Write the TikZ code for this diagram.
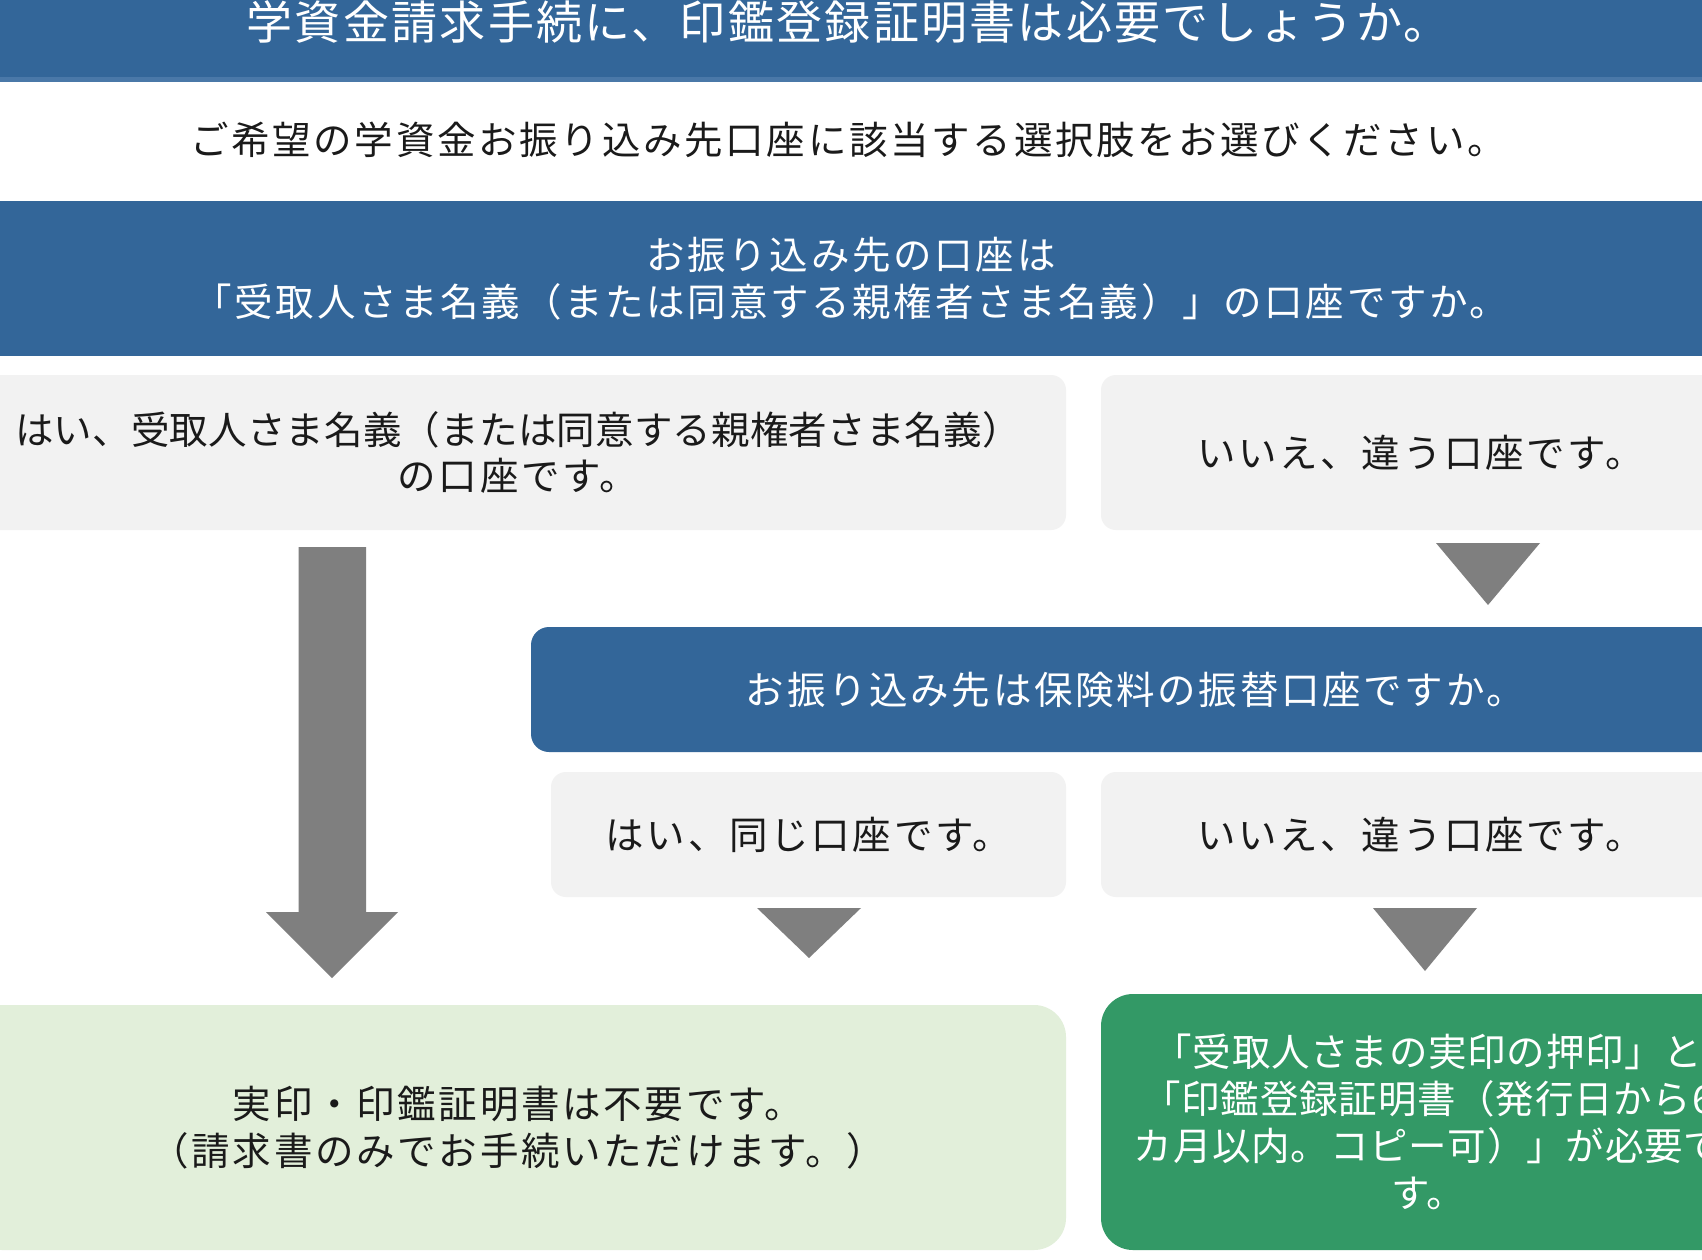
\documentclass[tikz,border=0pt]{standalone}
\usepackage{fontspec}
\setmainfont{Noto Sans CJK JP}
\newfontfamily\jpbody[LetterSpace=7]{Noto Sans CJK JP}
\newfontfamily\jptight[LetterSpace=0.5]{Noto Sans CJK JP}
\newfontfamily\jpgreen[LetterSpace=2]{Noto Sans CJK JP}
\newfontfamily\jptitle[LetterSpace=5]{Noto Sans CJK JP}
\definecolor{bandblue}{HTML}{336699}
\definecolor{bandstrip}{HTML}{4A78A8}
\definecolor{boxgrey}{HTML}{F2F2F2}
\definecolor{lightgreen}{HTML}{E2EFDA}
\definecolor{darkgreen}{HTML}{339966}
\definecolor{arrowgrey}{HTML}{7F7F7F}
\definecolor{inkblack}{HTML}{1A1A1A}
\begin{document}
\begin{tikzpicture}[x=1pt,y=-1pt,
  plainbox/.style={draw=none, inner sep=0pt, outer sep=0pt, align=center},
  bodyfont/.style={font=\jpbody\fontsize{38.5}{47}\selectfont},
  band/.style={plainbox, fill=bandblue, minimum width=1702pt, text=white, bodyfont},
  greybox/.style={plainbox, fill=boxgrey, rounded corners=15pt, text=inkblack, bodyfont},
  bluebox/.style={plainbox, fill=bandblue, rounded corners=18pt, text=white, bodyfont},
  resultlight/.style={plainbox, fill=lightgreen, rounded corners=32pt, text=inkblack, bodyfont},
  resultdark/.style={plainbox, fill=darkgreen, rounded corners=32pt, text=white, bodyfont},
  flowarrow/.style={fill=arrowgrey, draw=none}
]
\useasboundingbox (0,0) rectangle (1702,1260);
\clip (0,0) rectangle (1702,1260);
\fill[white] (0,0) rectangle (1702,1260);

% top title band
\node[band, minimum height=82pt] (topband) at (851,41) {};
\fill[bandstrip] (topband.south west) ++(0,-5) rectangle (topband.south east);
\node[plainbox, text=white, font=\jptitle\fontsize{46}{50}\selectfont] (title) at (848,22)
  {学資金請求手続に、印鑑登録証明書は必要でしょうか。};

% instruction
\node[plainbox, text=inkblack, bodyfont] (instr) at (848,139.5)
  {ご希望の学資金お振り込み先口座に該当する選択肢をお選びください。};

% first question band
\node[band, minimum height=155pt] (q1) at (851,278.5)
  {お振り込み先の口座は\\「受取人さま名義（または同意する親権者さま名義）」の口座ですか。};

% first answers
\node[greybox, minimum width=1096pt, minimum height=155pt] (yes1) at (518,452.5)
  {{\jptight\fontsize{38.5}{47}\selectfont はい、受取人さま名義（または同意する親権者さま名義）}\\の口座です。};
\node[greybox, minimum width=639pt, minimum height=155pt] (no1) at (1420.5,452.5)
  {いいえ、違う口座です。};

% second question
\node[bluebox, minimum width=1209pt, minimum height=125pt] (q2) at (1135.5,689.5)
  {お振り込み先は保険料の振替口座ですか。};

% second answers
\node[greybox, minimum width=515pt, minimum height=125pt] (yes2) at (808.5,834.5)
  {はい、同じ口座です。};
\node[greybox, minimum width=639pt, minimum height=125pt] (no2) at (1420.5,834.5)
  {いいえ、違う口座です。};

% results
\node[resultlight, minimum width=1096pt, minimum height=245pt] (resA) at (518,1127.5)
  {実印・印鑑証明書は不要です。\\（請求書のみでお手続いただけます。）};
\node[resultdark, minimum width=639pt, minimum height=256pt] (resB) at (1420.5,1122)
  {};
\node[plainbox, text=white, font=\jpgreen\fontsize{38.5}{47}\selectfont] (resBtext) at (1428,1122)
  {「受取人さまの実印の押印」と\\「印鑑登録証明書（発行日から6\\カ月以内。コピー可）」が必要で\\す。};

% arrows
\fill[flowarrow] (298.5,547) -- (366,547) -- (366,912) -- (398,912) -- (332,978)
  -- (266,912) -- (298.5,912) -- cycle;
\fill[flowarrow] (1436,543) -- (1540,543) -- (1488,605) -- cycle;
\fill[flowarrow] (757,908) -- (861,908) -- (809,958) -- cycle;
\fill[flowarrow] (1373,908) -- (1477,908) -- (1425,971) -- cycle;
\end{tikzpicture}
\end{document}
